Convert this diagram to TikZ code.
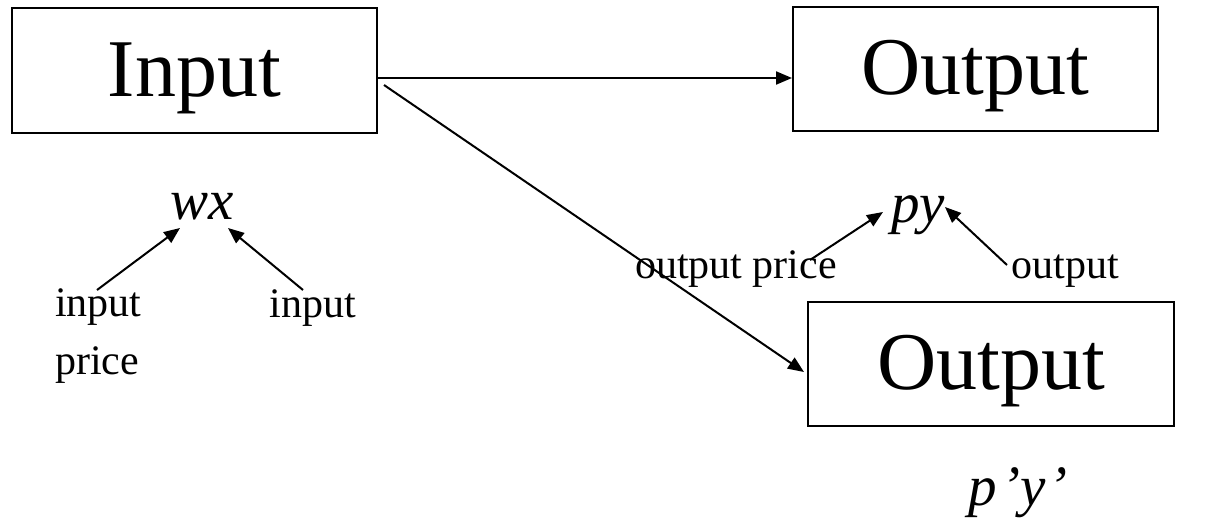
\documentclass[tikz,border=0pt]{standalone}
\usepackage{fontspec}
\setmainfont{Liberation Serif}
\usetikzlibrary{arrows.meta}
\begin{document}
\begin{tikzpicture}[x=1pt,y=-1pt,
  box/.style={draw,line width=2pt,inner sep=0pt,text height=61pt,text depth=10pt,
    font=\fontsize{82}{90}\selectfont},
  lbl/.style={inner sep=0pt,font=\fontsize{42}{58}\selectfont},
  sym/.style={inner sep=0pt,font=\fontsize{57}{60}\selectfont\itshape},
  arr/.style={line width=2pt,-{Triangle[length=16pt,width=13pt]}}]
\useasboundingbox (0,0) rectangle (1219,522);

% boxes
\node[box,minimum width=365pt,minimum height=125pt] (in) at (194.5,70.5) {Input};
\node[box,minimum width=365pt,minimum height=124pt] (out1) at (975.5,69) {Output};
\node[box,minimum width=366pt,minimum height=124pt] (out2) at (991,364) {Output};

% value terms
\node[sym,anchor=base] (wx) at (202.5,219) {wx};
\node[sym,anchor=base] (py) at (918,222) {py};
\node[sym,anchor=base] (pyb) at (1018,505) {p\hspace{4pt}’y\hspace{3pt}’};

% labels
\node[lbl,anchor=north west,align=left] (ip) at (55,288) {input\\price};
\node[lbl,anchor=base] (iq) at (312.5,317) {input};
\node[lbl,anchor=base] (op) at (736,278) {output price};
\node[lbl,anchor=base] (oq) at (1065,278) {output};

% arrow ends
\coordinate (ipS) at (97,290);
\coordinate (wxL) at (180,228);
\coordinate (iqS) at (303,290);
\coordinate (wxR) at (228,228);
\coordinate (opS) at (810,260);
\coordinate (pyL) at (883,212);
\coordinate (oqS) at (1007,265);
\coordinate (pyR) at (945,207);

% connectors
\draw[arr] ([yshift=-7.5pt]in.east) -- ([yshift=-9pt]out1.west);
\draw[arr] ([shift={(6pt,-14.5pt)}]in.east) -- ([shift={(-3pt,-8pt)}]out2.west);
\draw[arr] (ipS) -- (wxL);
\draw[arr] (iqS) -- (wxR);
\draw[arr] (opS) -- (pyL);
\draw[arr] (oqS) -- (pyR);
\end{tikzpicture}
\end{document}
